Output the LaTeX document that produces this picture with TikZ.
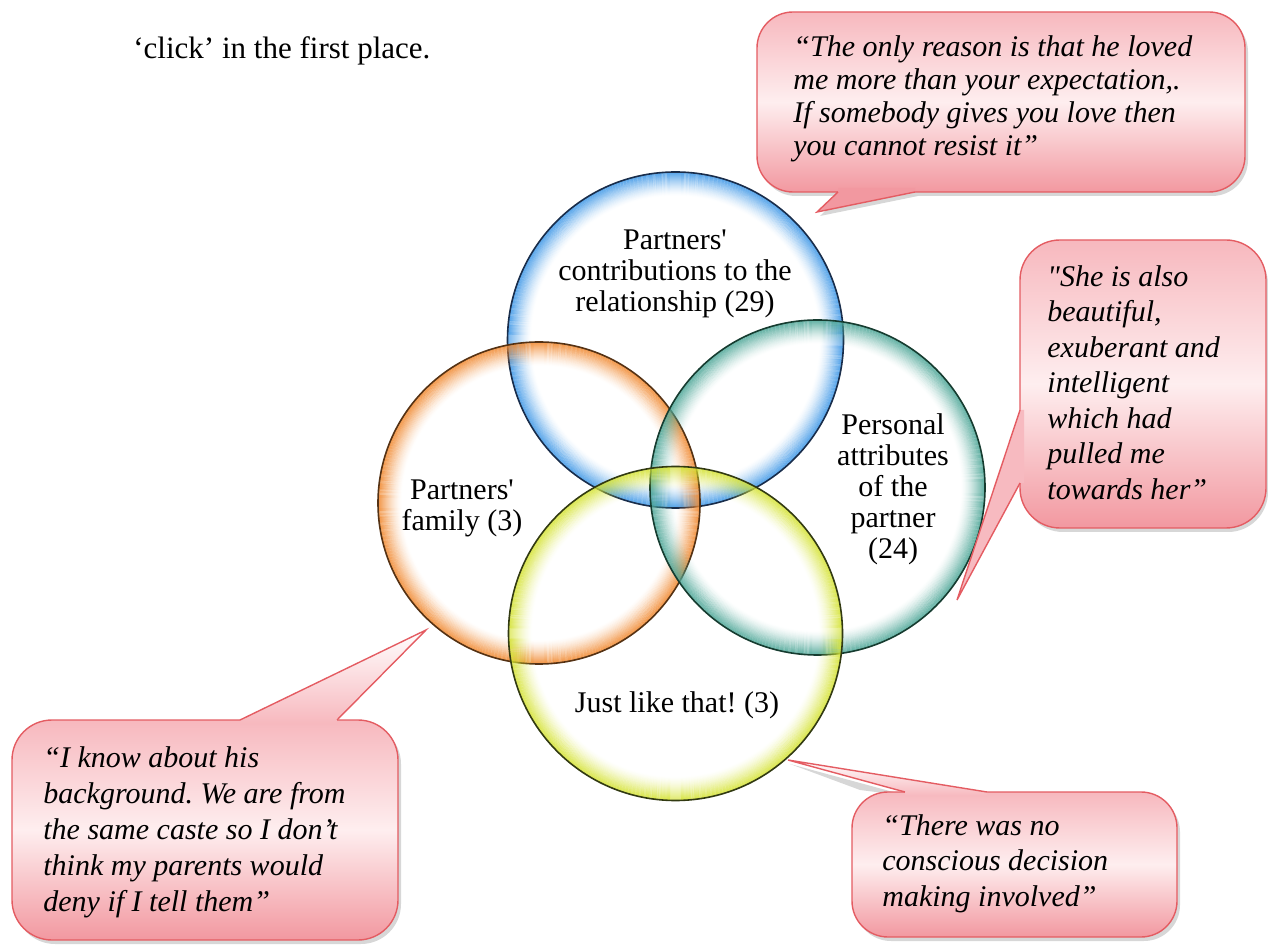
\documentclass[tikz,border=0pt]{standalone}
\usepackage{fontspec}
\setmainfont{Liberation Serif}
\newfontfamily\qf{Liberation Serif}
\frenchspacing
\definecolor{pinkTop}{RGB}{247,184,190}
\definecolor{pinkMid}{RGB}{254,238,239}
\definecolor{pinkBot}{RGB}{242,152,160}
\definecolor{callRed}{RGB}{228,92,98}
\definecolor{blueRing}{RGB}{60,150,230}
\definecolor{blueLine}{RGB}{25,45,75}
\definecolor{orangeRing}{RGB}{240,135,45}
\definecolor{orangeLine}{RGB}{85,50,20}
\definecolor{tealRing}{RGB}{75,165,150}
\definecolor{tealLine}{RGB}{22,60,48}
\definecolor{yellowRing}{RGB}{212,226,50}
\definecolor{yellowLine}{RGB}{50,58,18}
\newcommand{\vennring}[4]{%
  \foreach \rr in {0,...,23}{%
    \pgfmathsetmacro{\ringop}{0.85*(1-\rr/24)^1.6}%
    \draw[draw=#3, line width=0.55pt, draw opacity=\ringop] (#1) circle ({#2-0.3pt-\rr*0.5pt});%
  }%
  \draw[draw=#4, line width=0.8pt] (#1) circle (#2);%
}
\begin{document}
\begin{tikzpicture}[x=0.5pt,y=-0.5pt,
  lbl/.style={align=center, inner sep=0pt, font={\qf\fontsize{15}{15.5}\selectfont}},
  qt/.style={align=left, anchor=north west, inner sep=0pt, font={\qf\itshape\fontsize{15}{17.75}\selectfont}},
  cshadow/.style={fill=black!45, opacity=0.35},
  cbox/.style={top color=pinkTop, bottom color=pinkBot, middle color=pinkMid},
  cline/.style={draw=callRed, line width=0.7pt, line join=miter}]
\useasboundingbox (0,0) rectangle (1268,945);

% ---- Venn circles ----
\coordinate (cb) at (675.5,340);
\coordinate (co) at (539,503);
\coordinate (ct) at (817.5,487.5);
\coordinate (cy) at (675.5,633.5);
\vennring{cb}{84pt}{blueRing}{blueLine}
\vennring{co}{80.5pt}{orangeRing}{orangeLine}
\vennring{ct}{83.75pt}{tealRing}{tealLine}
\vennring{cy}{83.5pt}{yellowRing}{yellowLine}

\node[lbl] (tblue) at (675,274) {Partners'\\contributions to the\\relationship (29)};
\node[lbl] (torange) at (462,508) {Partners'\\family (3)};
\node[lbl] (tteal) at (893,489) {Personal\\attributes\\of the\\partner\\(24)};
\node[lbl] (tyellow) at (677,705) {Just like that! (3)};
\node[anchor=west, inner sep=0pt, font={\qf\fontsize{15.5}{18}\selectfont}] (click) at (133,51) {‘click’ in the first place.};

% ---- top-right callout ----
\fill[cshadow, rounded corners=18pt] (760,16) rectangle (1248,196);
\fill[cshadow] (841,196) -- (820,216) -- (918,196) -- cycle;
\shade[cbox, rounded corners=18pt] (757,12) rectangle (1245,192);
\draw[cline, rounded corners=18pt] (757,12) rectangle (1245,192);
\fill[pinkBot] (838,192) -- (817,212) -- (915,192) -- (915,188) -- (838,188) -- cycle;
\draw[cline] (838,192) -- (817,212) -- (915,192);
\node[qt, font={\qf\itshape\fontsize{15}{16.5}\selectfont}] (qtr) at (793,35) {“The only reason is that he loved\\me more than your expectation,.\\If somebody gives you love then\\you cannot resist it”};

% ---- right callout ----
\fill[cshadow, rounded corners=20pt] (1023,244) rectangle (1268,532);
\shade[cbox, rounded corners=20pt] (1020,240) rectangle (1266,528);
\draw[cline, rounded corners=20pt] (1020,240) rectangle (1266,528);
\fill[pinkMid!40!pinkBot] (1020,410) -- (957,600) -- (1020,483) -- (1024,483) -- (1024,410) -- cycle;
\draw[cline] (1020,410) -- (957,600) -- (1020,483);
\node[qt] (qr) at (1047,265) {"She is also\\beautiful,\\exuberant and\\intelligent\\which had\\pulled me\\towards her”};

% ---- bottom-left callout ----
\fill[cshadow, rounded corners=20pt] (15,724) rectangle (401,944);
\shade[cbox, rounded corners=20pt] (12,720) rectangle (398,940);
\draw[cline, rounded corners=20pt] (12,720) rectangle (398,940);
\shade[top color=white, bottom color=pinkTop] (240,720) -- (426,630) -- (337,720) -- (337,724) -- (240,724) -- cycle;
\draw[cline] (240,720) -- (426,630) -- (337,720);
\node[qt, font={\qf\itshape\fontsize{15}{18}\selectfont}] (qbl) at (43,746) {“I know about his\\background. We are from\\the same caste so I don’t\\think my parents would\\deny if I tell them”};

% ---- bottom-right callout ----
\fill[cshadow, rounded corners=18pt] (855,796) rectangle (1180,941);
\fill[cshadow] (790,764) -- (908,796) -- (860,790) -- cycle;
\shade[cbox, rounded corners=18pt] (852,792) rectangle (1177,937);
\draw[cline, rounded corners=18pt] (852,792) rectangle (1177,937);
\shade[top color=white, bottom color=pinkTop] (905,792) -- (788,760) -- (987,792) -- (987,796) -- (905,796) -- cycle;
\draw[cline] (905,792) -- (788,760) -- (987,792);
\node[qt] (qbr) at (882,814) {“There was no\\conscious decision\\making involved”};
\end{tikzpicture}
\end{document}
